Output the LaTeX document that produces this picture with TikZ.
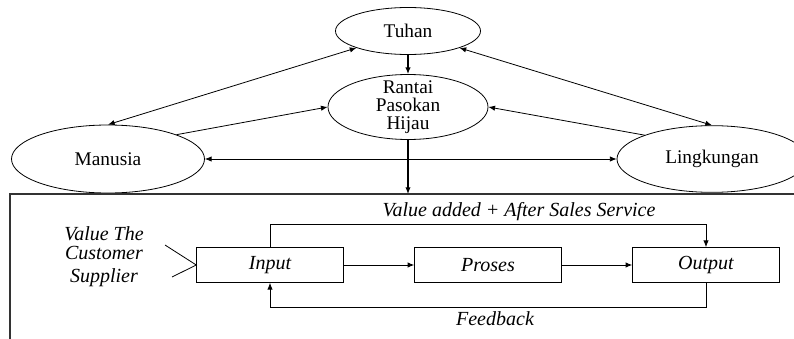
\documentclass[tikz,border=0pt]{standalone}
\usepackage{fontspec}
\setmainfont{Liberation Serif}
\newfontfamily\tnr{Liberation Serif}
\usetikzlibrary{shapes.geometric,arrows.meta}
\begin{document}
\begin{tikzpicture}[x=0.75pt,y=-0.75pt,line width=0.6pt,
    >={Latex[length=5pt,width=4pt]},
    oval/.style={draw,ellipse,inner sep=0pt,align=center,font=\tnr\fontsize{14.5}{13.5}\selectfont},
    blok/.style={draw,rectangle,minimum width=110pt,minimum height=26.25pt,font=\tnr\fontsize{15}{18}\selectfont\itshape},
    lbl/.style={font=\tnr\fontsize{15}{14}\selectfont\itshape,align=center}]

    \useasboundingbox (0,0) rectangle (794,339);

        % upper part
        \node [oval,minimum width=108.75pt,minimum height=35.25pt] (tuhan) at (408,31) {Tuhan};
        \node [oval,inner ysep=-8pt,minimum width=120pt,minimum height=48.75pt] (rantai) at (408,107) {Rantai\\Pasokan\\Hijau};
        \node [oval,minimum width=144.75pt,minimum height=51pt] (manusia) at (108,159) {Manusia};
        \node [oval,minimum width=142.5pt,minimum height=50pt] (lingkungan) at (712,159) {Lingkungan};

        \path[<->] (manusia.north) edge (tuhan.south west);
        \path[<->] (tuhan.south east) edge (lingkungan.north);
        \path[<->] (manusia.east) edge (lingkungan.west);
        \path[->] (manusia.north east) edge (rantai.west);
        \path[->] (lingkungan.north west) edge (rantai.east);
        \path[->,line width=0.9pt] (tuhan) edge (rantai);

        % frame
        \coordinate (fr) at (10,194);
        \draw [black!80,line width=0.8pt] (10,339) -- (fr) -- (794,194);
        \path[->,line width=0.9pt] (rantai.south) edge (rantai.south |- fr);

        % lower part
        \node [blok] (input) at (270,265) {Input};
        \node [blok] (proses) at (488,265) {Proses};
        \node [blok] (output) at (706,265) {Output};

        \path[->] (input) edge (proses);
        \path[->] (proses) edge (output);
        \draw[->] (input.north) -- ++(0,-23) -| (output.north);
        \draw[->] (output.south) -- ++(0,24) -| (input.south);

        \node [lbl] (va) at (519,212) {Value added + After Sales Service};
        \node [lbl] (fb) at (495,319) {Feedback};

        \node [lbl] (vtc) at (104,243) {Value The\\Customer};
        \node [lbl] (sup) at (104,278) {Supplier};
        \coordinate (c1) at (165,245);
        \coordinate (c2) at (172,277);
        \draw (c1) -- (input.west) -- (c2);

    \end{tikzpicture}
\end{document}
